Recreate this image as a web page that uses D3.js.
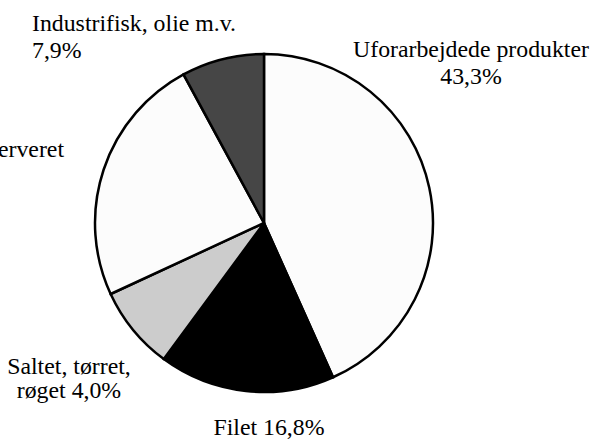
<!DOCTYPE html>
<html>
<head>
<meta charset="utf-8">
<script src="https://cdn.jsdelivr.net/npm/d3@7"></script>
<style>
  html, body { margin: 0; padding: 0; background: #ffffff; }
  svg { display: block; }
</style>
</head>
<body>
<svg id="chart" width="597" height="439"></svg>
<script>
// ---- data ----
const categories = ["Uforarbejdede produkter", "Filet", "Saltet, tørret, røget", "Konserveret", "Industrifisk, olie m.v."];
const values = [43.3, 16.8, 8.0, 24.0, 7.9];
const labelLines = [
  ["Uforarbejdede produkter", "43,3%"],
  ["Filet 16,8%"],
  ["Saltet, tørret,", "røget 4,0%"],
  ["Konserveret"],
  ["Industrifisk, olie m.v.", "7,9%"]
];
const fills = ["#fcfcfc", "#000000", "#cccccc", "#fcfcfc", "#464646"];

// ---- layout ----
const W = 597, H = 439;
const cx = 264, cy = 223, R = 169;
const fontSize = 23.8;
const fontFamily = "'Liberation Serif', 'Times New Roman', Times, serif";
// label anchor: [x, first baseline y, text-anchor, line height]
const labelPos = [
  [471, 57, "middle", 27],
  [269, 435, "middle", 27],
  [69, 374, "middle", 24],
  [64, 157, "end", 27],
  [32, 31, "start", 27]
];

const svg = d3.select("#chart");
const g = svg.append("g").attr("transform", `translate(${cx},${cy})`);

const pie = d3.pie().sort(null).value(d => d).startAngle(0).endAngle(2 * Math.PI);
const arc = d3.arc().innerRadius(0).outerRadius(R);

g.selectAll("path.slice")
  .data(pie(values))
  .join("path")
  .attr("class", "slice")
  .attr("d", arc)
  .attr("fill", (d, i) => fills[i])
  .attr("stroke", "#000")
  .attr("stroke-width", 2.5)
  .attr("stroke-linejoin", "miter");

const labels = svg.selectAll("text.lbl")
  .data(categories)
  .join("text")
  .attr("class", "lbl")
  .attr("font-family", fontFamily)
  .attr("font-size", fontSize)
  .attr("fill", "#000")
  .attr("text-anchor", (d, i) => labelPos[i][2]);

labels.each(function (d, i) {
  const t = d3.select(this);
  labelLines[i].forEach((line, j) => {
    t.append("tspan")
      .attr("x", labelPos[i][0])
      .attr("y", labelPos[i][1] + j * labelPos[i][3])
      .text(line);
  });
});
</script>
</body>
</html>
